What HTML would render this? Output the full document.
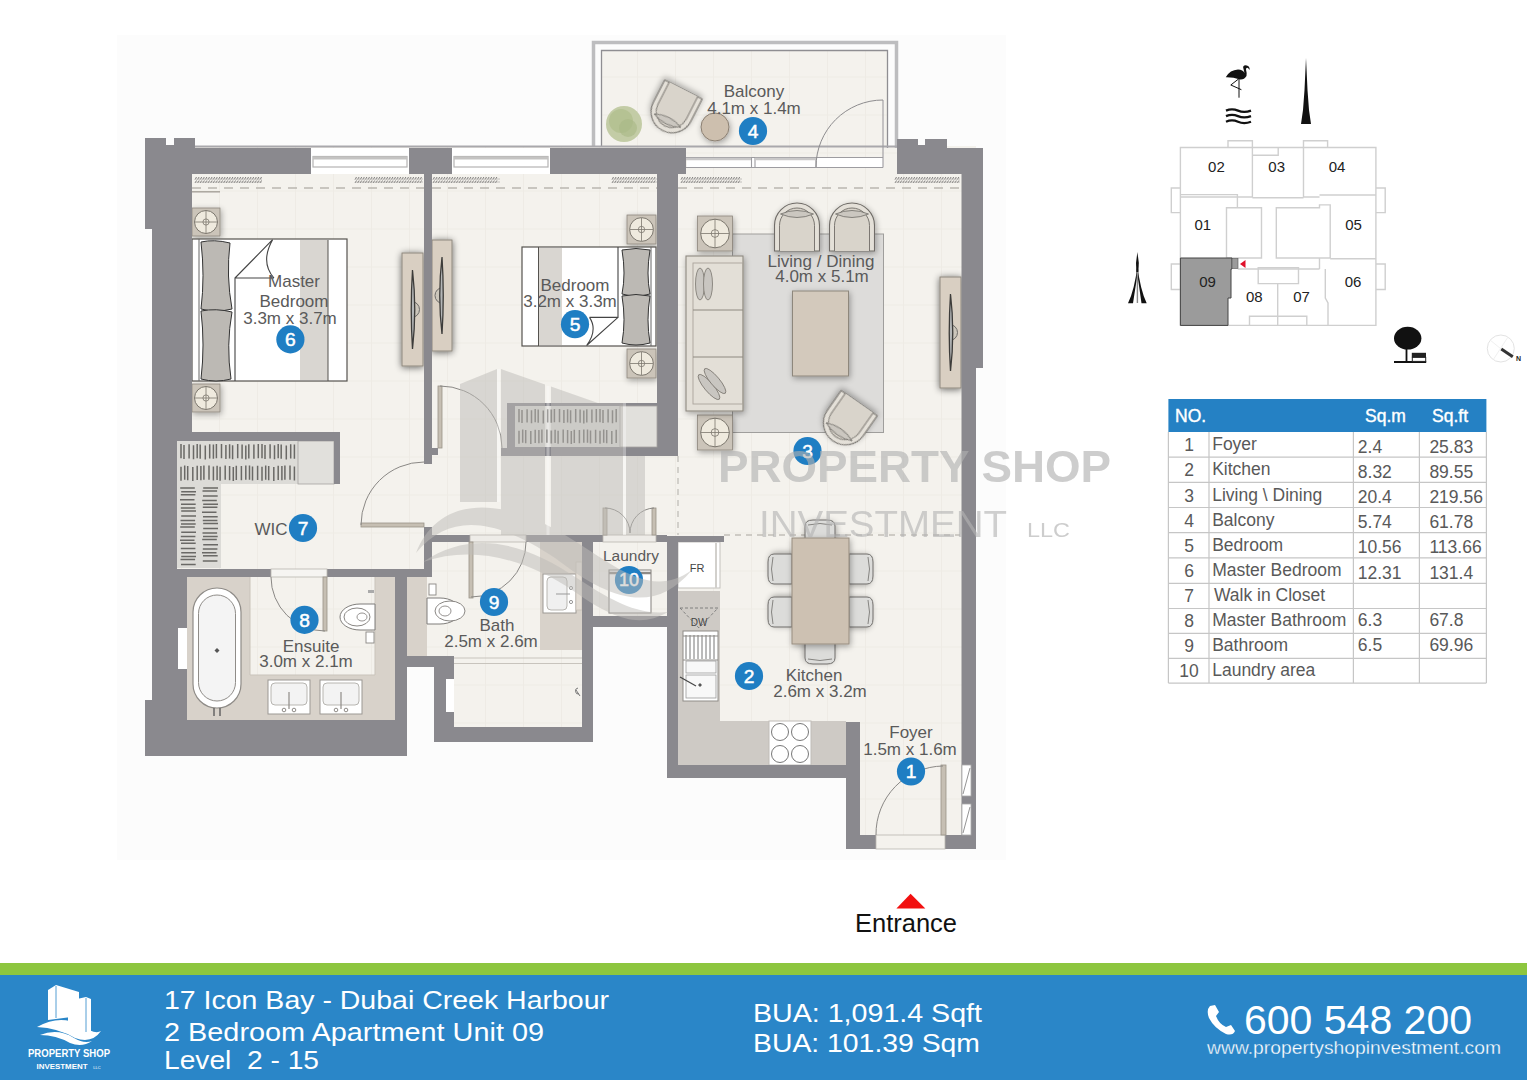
<!DOCTYPE html>
<html><head><meta charset="utf-8"><title>Floor plan</title>
<style>
html,body{margin:0;padding:0;background:#fff;width:1527px;height:1080px;overflow:hidden}
svg{display:block;position:absolute;left:0;top:0}
text{font-family:"Liberation Sans",sans-serif}
</style></head><body>
<svg width="1527" height="1080" viewBox="0 0 1527 1080">
<defs>
<pattern id="grid" x="29" y="0.5" width="38" height="38" patternUnits="userSpaceOnUse">
<rect width="38" height="38" fill="#f4f2ed"/>
<path d="M0.5 0V38M0 0.5H38" stroke="#eeebe5" stroke-width="1"/>
</pattern>
<filter id="sh2" x="-60%" y="-30%" width="220%" height="160%"><feGaussianBlur in="SourceAlpha" stdDeviation="3.5"/><feOffset dx="0" dy="1"/><feComponentTransfer><feFuncA type="linear" slope="0.6"/></feComponentTransfer><feMerge><feMergeNode/><feMergeNode in="SourceGraphic"/></feMerge></filter>
<filter id="sh" x="-30%" y="-30%" width="160%" height="160%"><feGaussianBlur in="SourceAlpha" stdDeviation="3"/><feOffset dx="1" dy="2"/><feComponentTransfer><feFuncA type="linear" slope="0.35"/></feComponentTransfer><feMerge><feMergeNode/><feMergeNode in="SourceGraphic"/></feMerge></filter>
</defs>

<rect x="117" y="35" width="889" height="825" fill="#fcfcfc"/>
<g fill="url(#grid)">
<rect x="601" y="50" width="287" height="96"/>
<rect x="152" y="146" width="824" height="389"/>
<rect x="152" y="535" width="441" height="207"/>
<rect x="593" y="535" width="74" height="92"/>
<rect x="667" y="535" width="309" height="243"/>
<rect x="846" y="778" width="130" height="71"/>
</g>
<rect x="407" y="667" width="27" height="100" fill="#fcfcfc"/>
<rect x="593" y="627" width="74" height="140" fill="#fcfcfc"/>
<path d="M593.5 146V42.5H896.5V150" fill="none" stroke="#bdbdbf" stroke-width="3.5"/>
<path d="M601.5 146V50.5H887.5V150H893" fill="none" stroke="#8f8e92" stroke-width="1.3"/>
<path d="M195 146.5H897" stroke="#a9a8ac" stroke-width="2"/>
<rect x="311" y="148" width="98" height="26" fill="#fff"/>
<rect x="313" y="156.5" width="94" height="10.5" fill="#fff" stroke="#b4b3b3" stroke-width="1.2"/>
<rect x="313" y="156.5" width="94" height="3" fill="#c4c3c2"/>
<rect x="452" y="148" width="98" height="26" fill="#fff"/>
<rect x="454" y="156.5" width="94" height="10.5" fill="#fff" stroke="#b4b3b3" stroke-width="1.2"/>
<rect x="454" y="156.5" width="94" height="3" fill="#c4c3c2"/>
<rect x="686" y="148" width="211" height="26" fill="url(#grid)"/>
<rect x="687" y="157.5" width="196" height="10" fill="#fff"/>
<path d="M686 157.5H883M686 167.5H883M751.5 157.5V167.5M755 157.5V167.5M816 157.5V167.5M883 100V167.5" stroke="#9d9ca0" stroke-width="1.1" fill="none"/>
<path d="M686 159H751M755 159H816" stroke="#c9c8c8" stroke-width="2.5"/>
<path d="M816 167 A67 67 0 0 1 883 100" fill="none" stroke="#8d8c8e" stroke-width="1"/>
<path d="M195.0 179.5L196.5 177M195.0 183L196.5 180.5M197.6 179.5L199.1 177M197.6 183L199.1 180.5M200.2 179.5L201.7 177M200.2 183L201.7 180.5M202.8 179.5L204.3 177M202.8 183L204.3 180.5M205.4 179.5L206.9 177M205.4 183L206.9 180.5M208.0 179.5L209.5 177M208.0 183L209.5 180.5M210.6 179.5L212.1 177M210.6 183L212.1 180.5M213.2 179.5L214.7 177M213.2 183L214.7 180.5M215.8 179.5L217.3 177M215.8 183L217.3 180.5M218.4 179.5L219.9 177M218.4 183L219.9 180.5M221.0 179.5L222.5 177M221.0 183L222.5 180.5M223.6 179.5L225.1 177M223.6 183L225.1 180.5M226.2 179.5L227.7 177M226.2 183L227.7 180.5M228.8 179.5L230.3 177M228.8 183L230.3 180.5M231.4 179.5L232.9 177M231.4 183L232.9 180.5M234.0 179.5L235.5 177M234.0 183L235.5 180.5M236.6 179.5L238.1 177M236.6 183L238.1 180.5M239.2 179.5L240.7 177M239.2 183L240.7 180.5M241.8 179.5L243.3 177M241.8 183L243.3 180.5M244.4 179.5L245.9 177M244.4 183L245.9 180.5M247.0 179.5L248.5 177M247.0 183L248.5 180.5M249.6 179.5L251.1 177M249.6 183L251.1 180.5M252.2 179.5L253.7 177M252.2 183L253.7 180.5M254.8 179.5L256.3 177M254.8 183L256.3 180.5M257.4 179.5L258.9 177M257.4 183L258.9 180.5M260.0 179.5L261.5 177M260.0 183L261.5 180.5" stroke="#7d7c7b" stroke-width="1"/>
<path d="M195 179H262M195 182H262" stroke="#b5b3b0" stroke-width="0.8"/>
<path d="M355.0 179.5L356.5 177M355.0 183L356.5 180.5M357.6 179.5L359.1 177M357.6 183L359.1 180.5M360.2 179.5L361.7 177M360.2 183L361.7 180.5M362.8 179.5L364.3 177M362.8 183L364.3 180.5M365.4 179.5L366.9 177M365.4 183L366.9 180.5M368.0 179.5L369.5 177M368.0 183L369.5 180.5M370.6 179.5L372.1 177M370.6 183L372.1 180.5M373.2 179.5L374.7 177M373.2 183L374.7 180.5M375.8 179.5L377.3 177M375.8 183L377.3 180.5M378.4 179.5L379.9 177M378.4 183L379.9 180.5M381.0 179.5L382.5 177M381.0 183L382.5 180.5M383.6 179.5L385.1 177M383.6 183L385.1 180.5M386.2 179.5L387.7 177M386.2 183L387.7 180.5M388.8 179.5L390.3 177M388.8 183L390.3 180.5M391.4 179.5L392.9 177M391.4 183L392.9 180.5M394.0 179.5L395.5 177M394.0 183L395.5 180.5M396.6 179.5L398.1 177M396.6 183L398.1 180.5M399.2 179.5L400.7 177M399.2 183L400.7 180.5M401.8 179.5L403.3 177M401.8 183L403.3 180.5M404.4 179.5L405.9 177M404.4 183L405.9 180.5M407.0 179.5L408.5 177M407.0 183L408.5 180.5M409.6 179.5L411.1 177M409.6 183L411.1 180.5M412.2 179.5L413.7 177M412.2 183L413.7 180.5M414.8 179.5L416.3 177M414.8 183L416.3 180.5M417.4 179.5L418.9 177M417.4 183L418.9 180.5M420.0 179.5L421.5 177M420.0 183L421.5 180.5" stroke="#7d7c7b" stroke-width="1"/>
<path d="M355 179H423M355 182H423" stroke="#b5b3b0" stroke-width="0.8"/>
<path d="M433.0 179.5L434.5 177M433.0 183L434.5 180.5M435.6 179.5L437.1 177M435.6 183L437.1 180.5M438.2 179.5L439.7 177M438.2 183L439.7 180.5M440.8 179.5L442.3 177M440.8 183L442.3 180.5M443.4 179.5L444.9 177M443.4 183L444.9 180.5M446.0 179.5L447.5 177M446.0 183L447.5 180.5M448.6 179.5L450.1 177M448.6 183L450.1 180.5M451.2 179.5L452.7 177M451.2 183L452.7 180.5M453.8 179.5L455.3 177M453.8 183L455.3 180.5M456.4 179.5L457.9 177M456.4 183L457.9 180.5M459.0 179.5L460.5 177M459.0 183L460.5 180.5M461.6 179.5L463.1 177M461.6 183L463.1 180.5M464.2 179.5L465.7 177M464.2 183L465.7 180.5M466.8 179.5L468.3 177M466.8 183L468.3 180.5M469.4 179.5L470.9 177M469.4 183L470.9 180.5M472.0 179.5L473.5 177M472.0 183L473.5 180.5M474.6 179.5L476.1 177M474.6 183L476.1 180.5M477.2 179.5L478.7 177M477.2 183L478.7 180.5M479.8 179.5L481.3 177M479.8 183L481.3 180.5M482.4 179.5L483.9 177M482.4 183L483.9 180.5M485.0 179.5L486.5 177M485.0 183L486.5 180.5M487.6 179.5L489.1 177M487.6 183L489.1 180.5M490.2 179.5L491.7 177M490.2 183L491.7 180.5M492.8 179.5L494.3 177M492.8 183L494.3 180.5M495.4 179.5L496.9 177M495.4 183L496.9 180.5" stroke="#7d7c7b" stroke-width="1"/>
<path d="M433 179H500M433 182H500" stroke="#b5b3b0" stroke-width="0.8"/>
<path d="M612.0 179.5L613.5 177M612.0 183L613.5 180.5M614.6 179.5L616.1 177M614.6 183L616.1 180.5M617.2 179.5L618.7 177M617.2 183L618.7 180.5M619.8 179.5L621.3 177M619.8 183L621.3 180.5M622.4 179.5L623.9 177M622.4 183L623.9 180.5M625.0 179.5L626.5 177M625.0 183L626.5 180.5M627.6 179.5L629.1 177M627.6 183L629.1 180.5M630.2 179.5L631.7 177M630.2 183L631.7 180.5M632.8 179.5L634.3 177M632.8 183L634.3 180.5M635.4 179.5L636.9 177M635.4 183L636.9 180.5M638.0 179.5L639.5 177M638.0 183L639.5 180.5M640.6 179.5L642.1 177M640.6 183L642.1 180.5M643.2 179.5L644.7 177M643.2 183L644.7 180.5M645.8 179.5L647.3 177M645.8 183L647.3 180.5M648.4 179.5L649.9 177M648.4 183L649.9 180.5M651.0 179.5L652.5 177M651.0 183L652.5 180.5M653.6 179.5L655.1 177M653.6 183L655.1 180.5" stroke="#7d7c7b" stroke-width="1"/>
<path d="M612 179H657M612 182H657" stroke="#b5b3b0" stroke-width="0.8"/>
<path d="M681.0 179.5L682.5 177M681.0 183L682.5 180.5M683.6 179.5L685.1 177M683.6 183L685.1 180.5M686.2 179.5L687.7 177M686.2 183L687.7 180.5M688.8 179.5L690.3 177M688.8 183L690.3 180.5M691.4 179.5L692.9 177M691.4 183L692.9 180.5M694.0 179.5L695.5 177M694.0 183L695.5 180.5M696.6 179.5L698.1 177M696.6 183L698.1 180.5M699.2 179.5L700.7 177M699.2 183L700.7 180.5M701.8 179.5L703.3 177M701.8 183L703.3 180.5M704.4 179.5L705.9 177M704.4 183L705.9 180.5M707.0 179.5L708.5 177M707.0 183L708.5 180.5M709.6 179.5L711.1 177M709.6 183L711.1 180.5M712.2 179.5L713.7 177M712.2 183L713.7 180.5M714.8 179.5L716.3 177M714.8 183L716.3 180.5M717.4 179.5L718.9 177M717.4 183L718.9 180.5M720.0 179.5L721.5 177M720.0 183L721.5 180.5M722.6 179.5L724.1 177M722.6 183L724.1 180.5M725.2 179.5L726.7 177M725.2 183L726.7 180.5M727.8 179.5L729.3 177M727.8 183L729.3 180.5M730.4 179.5L731.9 177M730.4 183L731.9 180.5M733.0 179.5L734.5 177M733.0 183L734.5 180.5M735.6 179.5L737.1 177M735.6 183L737.1 180.5M738.2 179.5L739.7 177M738.2 183L739.7 180.5" stroke="#7d7c7b" stroke-width="1"/>
<path d="M681 179H742M681 182H742" stroke="#b5b3b0" stroke-width="0.8"/>
<path d="M895.0 179.5L896.5 177M895.0 183L896.5 180.5M897.6 179.5L899.1 177M897.6 183L899.1 180.5M900.2 179.5L901.7 177M900.2 183L901.7 180.5M902.8 179.5L904.3 177M902.8 183L904.3 180.5M905.4 179.5L906.9 177M905.4 183L906.9 180.5M908.0 179.5L909.5 177M908.0 183L909.5 180.5M910.6 179.5L912.1 177M910.6 183L912.1 180.5M913.2 179.5L914.7 177M913.2 183L914.7 180.5M915.8 179.5L917.3 177M915.8 183L917.3 180.5M918.4 179.5L919.9 177M918.4 183L919.9 180.5M921.0 179.5L922.5 177M921.0 183L922.5 180.5M923.6 179.5L925.1 177M923.6 183L925.1 180.5M926.2 179.5L927.7 177M926.2 183L927.7 180.5M928.8 179.5L930.3 177M928.8 183L930.3 180.5M931.4 179.5L932.9 177M931.4 183L932.9 180.5M934.0 179.5L935.5 177M934.0 183L935.5 180.5M936.6 179.5L938.1 177M936.6 183L938.1 180.5M939.2 179.5L940.7 177M939.2 183L940.7 180.5M941.8 179.5L943.3 177M941.8 183L943.3 180.5M944.4 179.5L945.9 177M944.4 183L945.9 180.5M947.0 179.5L948.5 177M947.0 183L948.5 180.5M949.6 179.5L951.1 177M949.6 183L951.1 180.5M952.2 179.5L953.7 177M952.2 183L953.7 180.5M954.8 179.5L956.3 177M954.8 183L956.3 180.5M957.4 179.5L958.9 177M957.4 183L958.9 180.5" stroke="#7d7c7b" stroke-width="1"/>
<path d="M895 179H960M895 182H960" stroke="#b5b3b0" stroke-width="0.8"/>
<path d="M192 191.8H220" stroke="#a9a59e" stroke-width="1.5"/>
<path d="M192 188H424M432 188H657M678 188H961" stroke="#b9b6b0" stroke-width="1.4" stroke-dasharray="9 7"/>
<path d="M678 456V535" stroke="#c1beb8" stroke-width="1.3" stroke-dasharray="6 5"/>
<path d="M724 535H960" stroke="#c1beb8" stroke-width="1.3" stroke-dasharray="6 5"/>
<g fill="#d8d2ca">
<rect x="187" y="577" width="63" height="143"/><rect x="250" y="675" width="125" height="45"/><rect x="375" y="577" width="20" height="143"/>
<rect x="407" y="577" width="20" height="79"/><rect x="540" y="542" width="42" height="108"/>
</g>
<path d="M250 577V675H375V577" fill="none" stroke="#c9c3ba" stroke-width="1"/>
<rect x="193" y="588" width="48" height="120" rx="24" fill="#fff" stroke="#8f8c88" stroke-width="1.2"/>
<rect x="198.5" y="595" width="37" height="106" rx="18.5" fill="#f4f4f4" stroke="#8f8c88" stroke-width="1"/>
<path d="M217 648L219.5 650.5L217 653L214.5 650.5Z" fill="#555"/>
<path d="M214 708V716M220 708V716" stroke="#666" stroke-width="1.5"/>
<rect x="268" y="680" width="42" height="34" fill="#fff" stroke="#9b9893" stroke-width="1"/>
<rect x="271" y="683" width="36" height="22" rx="4" fill="#f3f3f3" stroke="#a7a49f" stroke-width="0.8"/>
<path d="M289 692V709" stroke="#8f8c88" stroke-width="1.2"/><circle cx="284" cy="710" r="1.8" fill="none" stroke="#8f8c88"/><circle cx="294" cy="710" r="1.8" fill="none" stroke="#8f8c88"/>
<rect x="320" y="680" width="42" height="34" fill="#fff" stroke="#9b9893" stroke-width="1"/>
<rect x="323" y="683" width="36" height="22" rx="4" fill="#f3f3f3" stroke="#a7a49f" stroke-width="0.8"/>
<path d="M341 692V709" stroke="#8f8c88" stroke-width="1.2"/><circle cx="336" cy="710" r="1.8" fill="none" stroke="#8f8c88"/><circle cx="346" cy="710" r="1.8" fill="none" stroke="#8f8c88"/>
<path d="M375 604H360A20 13 0 0 0 360 630H375Z" fill="#fff" stroke="#7f7d7a" stroke-width="1"/>
<ellipse cx="357" cy="617" rx="13" ry="9" fill="#fff" stroke="#8a8784" stroke-width="1"/><ellipse cx="362" cy="617" rx="5" ry="4" fill="none" stroke="#8a8784" stroke-width="0.9"/>
<rect x="366" y="632" width="8" height="11" fill="#fff" stroke="#8a8784" stroke-width="0.9"/>
<rect x="368" y="590" width="6" height="3" fill="#aaa"/>
<path d="M427 598H440A20 13 0 0 1 440 624H427Z" fill="#fff" stroke="#7f7d7a" stroke-width="1"/>
<ellipse cx="450" cy="611" rx="15" ry="10" fill="#fff" stroke="#8a8784" stroke-width="1"/><ellipse cx="445" cy="611" rx="6" ry="5" fill="none" stroke="#8a8784" stroke-width="0.9"/>
<rect x="429" y="584" width="7" height="11" fill="#fff" stroke="#8a8784" stroke-width="0.9"/>
<rect x="543" y="574" width="33" height="39" fill="#fff" stroke="#9b9893"/><rect x="547" y="577" width="20" height="33" rx="4" fill="#f0f0f0" stroke="#a7a49f" stroke-width="0.8"/>
<path d="M556 594H570" stroke="#999" stroke-width="1"/><circle cx="571" cy="588" r="1.6" fill="none" stroke="#999"/><circle cx="571" cy="602" r="1.6" fill="none" stroke="#999"/>
<rect x="576" y="562" width="6" height="48" fill="#e3ddd5" stroke="#c8c1b7" stroke-width="0.8"/>
<path d="M454 658H582M454 663.5H582" stroke="#c8c4bd" stroke-width="1.1"/>
<path d="M576 690l4 6M578 688a3 3 0 1 0 1 6" stroke="#777" stroke-width="1" fill="none"/>
<rect x="609" y="570" width="42" height="43" fill="#fff" stroke="#8e8b87" stroke-width="1.1"/>
<path d="M609 573H651" stroke="#8e8b87" stroke-width="2.5"/>
<rect x="678" y="542" width="42" height="46" fill="#fff" stroke="#c3c1bd" stroke-width="1"/>
<path d="M716 543V588" stroke="#d2d0cc" stroke-width="2"/>
<text x="697" y="572" font-size="11" fill="#444" text-anchor="middle" font-weight="normal">FR</text>
<path d="M678 591H720V721H846V765H678Z" fill="#cecac5"/>
<path d="M680 608L699 628L718 608M680 608H718" fill="none" stroke="#777" stroke-width="0.9" stroke-dasharray="3 2"/>
<text x="699" y="626" font-size="10" fill="#444" text-anchor="middle" font-weight="normal">DW</text>
<rect x="683" y="631" width="35" height="70" fill="#fff" stroke="#8f8c88" stroke-width="1"/>
<path d="M686 635V659M690 635V659M694 635V659M698 635V659M702 635V659M706 635V659M710 635V659M714 635V659" stroke="#666" stroke-width="0.9"/>
<path d="M683 636H718M683 660H718" stroke="#8f8c88" stroke-width="1"/>
<rect x="686" y="661" width="30" height="12" fill="#f8f8f8" stroke="#999" stroke-width="0.8"/><rect x="686" y="675" width="30" height="23" fill="#f8f8f8" stroke="#999" stroke-width="0.8"/>
<path d="M680 677L696 686" stroke="#444" stroke-width="1.2"/><path d="M700 683l2 2-2 2-2-2z" fill="#555"/>
<rect x="769" y="721" width="42" height="44" fill="#fff" stroke="#bfbcb8" stroke-width="1"/>
<circle cx="780" cy="732" r="8.5" fill="#fff" stroke="#777" stroke-width="1"/>
<circle cx="800" cy="732" r="8.5" fill="#fff" stroke="#777" stroke-width="1"/>
<circle cx="780" cy="754" r="8.5" fill="#fff" stroke="#777" stroke-width="1"/>
<circle cx="800" cy="754" r="8.5" fill="#fff" stroke="#777" stroke-width="1"/>
<g transform="translate(780,569) rotate(-90)" filter="url(#sh)"><path d="M-15.0 12.0V-6.0Q-15.0 -12.0 -7.0 -12.0H7.0Q15.0 -12.0 15.0 -6.0V12.0Z" fill="#dcdcda" stroke="#6f6d6a" stroke-width="1"/><path d="M-12.0 -7.0Q0 -10.0 12.0 -7.0" fill="none" stroke="#6f6d6a" stroke-width="0.8"/></g>
<g transform="translate(780,612) rotate(-90)" filter="url(#sh)"><path d="M-15.0 12.0V-6.0Q-15.0 -12.0 -7.0 -12.0H7.0Q15.0 -12.0 15.0 -6.0V12.0Z" fill="#dcdcda" stroke="#6f6d6a" stroke-width="1"/><path d="M-12.0 -7.0Q0 -10.0 12.0 -7.0" fill="none" stroke="#6f6d6a" stroke-width="0.8"/></g>
<g transform="translate(861,569) rotate(90)" filter="url(#sh)"><path d="M-15.0 12.0V-6.0Q-15.0 -12.0 -7.0 -12.0H7.0Q15.0 -12.0 15.0 -6.0V12.0Z" fill="#dcdcda" stroke="#6f6d6a" stroke-width="1"/><path d="M-12.0 -7.0Q0 -10.0 12.0 -7.0" fill="none" stroke="#6f6d6a" stroke-width="0.8"/></g>
<g transform="translate(861,612) rotate(90)" filter="url(#sh)"><path d="M-15.0 12.0V-6.0Q-15.0 -12.0 -7.0 -12.0H7.0Q15.0 -12.0 15.0 -6.0V12.0Z" fill="#dcdcda" stroke="#6f6d6a" stroke-width="1"/><path d="M-12.0 -7.0Q0 -10.0 12.0 -7.0" fill="none" stroke="#6f6d6a" stroke-width="0.8"/></g>
<g transform="translate(820,531) rotate(0)" filter="url(#sh)"><path d="M-15.0 11.0V-5.0Q-15.0 -11.0 -7.0 -11.0H7.0Q15.0 -11.0 15.0 -5.0V11.0Z" fill="#dcdcda" stroke="#6f6d6a" stroke-width="1"/><path d="M-12.0 -6.0Q0 -9.0 12.0 -6.0" fill="none" stroke="#6f6d6a" stroke-width="0.8"/></g>
<g transform="translate(820,653) rotate(180)" filter="url(#sh)"><path d="M-15.0 11.0V-5.0Q-15.0 -11.0 -7.0 -11.0H7.0Q15.0 -11.0 15.0 -5.0V11.0Z" fill="#dcdcda" stroke="#6f6d6a" stroke-width="1"/><path d="M-12.0 -6.0Q0 -9.0 12.0 -6.0" fill="none" stroke="#6f6d6a" stroke-width="0.8"/></g>
<rect x="792" y="538" width="57" height="106" fill="#cdc1b2" stroke="#978d80" stroke-width="1" filter="url(#sh)"/>
<rect x="732.5" y="234" width="151" height="198.5" fill="#dddcda" stroke="#9f9e9c" stroke-width="1"/>
<rect x="697.5" y="216" width="35" height="35" fill="#cbc4b9" stroke="#8d877d" stroke-width="0.8" filter="url(#sh)"/>
<circle cx="715.0" cy="233.5" r="14.35" fill="#efeade" stroke="#7b766d" stroke-width="1"/><circle cx="715.0" cy="233.5" r="3.85" fill="none" stroke="#7b766d" stroke-width="0.8"/><path d="M715.0 219V248M700.5 233.5H729.5" stroke="#7b766d" stroke-width="0.8"/>
<rect x="697.5" y="415" width="35" height="35" fill="#cbc4b9" stroke="#8d877d" stroke-width="0.8" filter="url(#sh)"/>
<circle cx="715.0" cy="432.5" r="14.35" fill="#efeade" stroke="#7b766d" stroke-width="1"/><circle cx="715.0" cy="432.5" r="3.85" fill="none" stroke="#7b766d" stroke-width="0.8"/><path d="M715.0 418V447M700.5 432.5H729.5" stroke="#7b766d" stroke-width="0.8"/>
<rect x="686" y="256" width="57" height="155" fill="#e3dfd7" stroke="#8e8980" stroke-width="1.1" filter="url(#sh)"/>
<rect x="693" y="263" width="50" height="141" fill="none" stroke="#a9a49b" stroke-width="0.9"/>
<path d="M693 310H743M693 357H743" stroke="#8e8980" stroke-width="1"/>
<ellipse cx="700" cy="284" rx="4.5" ry="16" fill="#c9c6c1" stroke="#7a766f" stroke-width="0.8"/><ellipse cx="708" cy="284" rx="4.5" ry="16" fill="#c9c6c1" stroke="#7a766f" stroke-width="0.8"/>
<ellipse cx="709" cy="387" rx="4.5" ry="16" fill="#c9c6c1" stroke="#7a766f" stroke-width="0.8" transform="rotate(-40 709 387)"/><ellipse cx="715" cy="381" rx="4.5" ry="16" fill="#c9c6c1" stroke="#7a766f" stroke-width="0.8" transform="rotate(-40 715 381)"/>
<rect x="792.5" y="291" width="56" height="85" fill="#d3c9bc" stroke="#8e877c" stroke-width="1" filter="url(#sh)"/>
<g transform="translate(797,227) rotate(0)" filter="url(#sh)"><path d="M-22.5 24.0V-1.5A22.5 22.5 0 0 1 22.5 -1.5V24.0Z" fill="#e4e0d8" stroke="#6f6c67" stroke-width="1.1"/><path d="M-17.5 24.0V-1.5A17.5 17.5 0 0 1 17.5 -1.5V24.0" fill="#d9d4cb" stroke="#6f6c67" stroke-width="0.9"/><path d="M-16.5 -13.0Q0 -20.0 16.5 -13.0Q0 -6.0 -16.5 -13.0Z" fill="#cbc7c0" stroke="#6f6c67" stroke-width="0.8"/></g>
<g transform="translate(852,227) rotate(0)" filter="url(#sh)"><path d="M-22.5 24.0V-1.5A22.5 22.5 0 0 1 22.5 -1.5V24.0Z" fill="#e4e0d8" stroke="#6f6c67" stroke-width="1.1"/><path d="M-17.5 24.0V-1.5A17.5 17.5 0 0 1 17.5 -1.5V24.0" fill="#d9d4cb" stroke="#6f6c67" stroke-width="0.9"/><path d="M-16.5 -13.0Q0 -20.0 16.5 -13.0Q0 -6.0 -16.5 -13.0Z" fill="#cbc7c0" stroke="#6f6c67" stroke-width="0.8"/></g>
<g transform="translate(846,422) rotate(-145)" filter="url(#sh)"><path d="M-22.0 23.0V-1.0A22.0 22.0 0 0 1 22.0 -1.0V23.0Z" fill="#e4e0d8" stroke="#6f6c67" stroke-width="1.1"/><path d="M-17.0 23.0V-1.0A17.0 17.0 0 0 1 17.0 -1.0V23.0" fill="#d9d4cb" stroke="#6f6c67" stroke-width="0.9"/><path d="M-16.0 -12.0Q0 -19.0 16.0 -12.0Q0 -5.0 -16.0 -12.0Z" fill="#cbc7c0" stroke="#6f6c67" stroke-width="0.8"/></g>
<rect x="402" y="253" width="21" height="113" fill="#d9cfc2" stroke="#8e887e" stroke-width="1" filter="url(#sh2)"/>
<path d="M411.5 309.5m0 -8a8 8 0 0 1 0 16" fill="#ccc6bb" stroke="#6d6b68" stroke-width="1"/>
<path d="M412.5 270Q417.0 309.5 412.5 349Q410.0 309.5 412.5 270Z" fill="#b4b6b7" stroke="#3d3c3a" stroke-width="1.3"/>
<rect x="432" y="240" width="20" height="111" fill="#d9cfc2" stroke="#8e887e" stroke-width="1" filter="url(#sh2)"/>
<path d="M443.0 295.5m0 -8a8 8 0 0 0 0 16" fill="#ccc6bb" stroke="#6d6b68" stroke-width="1"/>
<path d="M442.0 257Q437.5 295.5 442.0 334Q444.5 295.5 442.0 257Z" fill="#b4b6b7" stroke="#3d3c3a" stroke-width="1.3"/>
<rect x="940" y="277" width="21" height="111" fill="#d9cfc2" stroke="#8e887e" stroke-width="1" filter="url(#sh2)"/>
<path d="M949.5 332.5m0 -8a8 8 0 0 1 0 16" fill="#ccc6bb" stroke="#6d6b68" stroke-width="1"/>
<path d="M950.5 294Q955.0 332.5 950.5 371Q948.0 332.5 950.5 294Z" fill="#b4b6b7" stroke="#3d3c3a" stroke-width="1.3"/>
<rect x="192" y="208" width="28" height="28" fill="#cbc4b9" stroke="#8d877d" stroke-width="0.8" filter="url(#sh)"/>
<circle cx="206.0" cy="222.0" r="11.479999999999999" fill="#efeade" stroke="#7b766d" stroke-width="1"/><circle cx="206.0" cy="222.0" r="3.08" fill="none" stroke="#7b766d" stroke-width="0.8"/><path d="M206.0 211V233M195 222.0H217" stroke="#7b766d" stroke-width="0.8"/>
<rect x="192" y="384" width="28" height="28" fill="#cbc4b9" stroke="#8d877d" stroke-width="0.8" filter="url(#sh)"/>
<circle cx="206.0" cy="398.0" r="11.479999999999999" fill="#efeade" stroke="#7b766d" stroke-width="1"/><circle cx="206.0" cy="398.0" r="3.08" fill="none" stroke="#7b766d" stroke-width="0.8"/><path d="M206.0 387V409M195 398.0H217" stroke="#7b766d" stroke-width="0.8"/>
<rect x="192" y="239" width="155" height="142" fill="#fff" stroke="#55534f" stroke-width="1.2"/>
<path d="M199 239V381" stroke="#666" stroke-width="1"/>
<rect x="300" y="240" width="28" height="140" fill="#d9d6d1"/><path d="M328 240V381" stroke="#55534f" stroke-width="1"/>
<path d="M201 242Q214 239 230 243Q226 276 232 309Q216 313 201 309Q205 276 201 242Z" fill="#bcb9b4" stroke="#333" stroke-width="1"/>
<path d="M201 311Q216 308 232 312Q226 345 231 379Q216 383 201 379Q205 345 201 311Z" fill="#bcb9b4" stroke="#333" stroke-width="1"/>
<path d="M235 381V278H274M235 278L272.6 239.7Q260 262 274 278" fill="none" stroke="#444" stroke-width="1.1"/>
<rect x="627" y="215" width="29" height="29" fill="#cbc4b9" stroke="#8d877d" stroke-width="0.8" filter="url(#sh)"/>
<circle cx="641.5" cy="229.5" r="11.889999999999999" fill="#efeade" stroke="#7b766d" stroke-width="1"/><circle cx="641.5" cy="229.5" r="3.19" fill="none" stroke="#7b766d" stroke-width="0.8"/><path d="M641.5 218V241M630 229.5H653" stroke="#7b766d" stroke-width="0.8"/>
<rect x="627" y="349" width="29" height="29" fill="#cbc4b9" stroke="#8d877d" stroke-width="0.8" filter="url(#sh)"/>
<circle cx="641.5" cy="363.5" r="11.889999999999999" fill="#efeade" stroke="#7b766d" stroke-width="1"/><circle cx="641.5" cy="363.5" r="3.19" fill="none" stroke="#7b766d" stroke-width="0.8"/><path d="M641.5 352V375M630 363.5H653" stroke="#7b766d" stroke-width="0.8"/>
<rect x="522" y="247" width="134" height="99" fill="#fff" stroke="#55534f" stroke-width="1.2"/>
<rect x="538.5" y="248" width="23.5" height="97" fill="#d9d6d1"/><path d="M538.5 247V346" stroke="#55534f" stroke-width="1"/>
<path d="M651 247V346" stroke="#666" stroke-width="1"/>
<path d="M622 250Q636 247 650 250Q646 274 650 294Q636 298 622 294Q626 274 622 250Z" fill="#bcb9b4" stroke="#333" stroke-width="1"/>
<path d="M622 296Q636 293 650 296Q646 320 650 343Q636 347 622 343Q626 320 622 296Z" fill="#bcb9b4" stroke="#333" stroke-width="1"/>
<path d="M618 247V317.4H589.5M618 317.4L586.6 345.5Q598 330 589.5 317.4" fill="none" stroke="#444" stroke-width="1.1"/>
<rect x="177" y="441" width="121" height="43" fill="#dcdbd7"/>
<path d="M181.0 444.0V458.2M184.0 444.9V459.0M189.1 444.3V458.5M193.5 445.2V459.2M197.2 444.0V458.2M200.2 444.6V458.8M205.3 445.5V459.5M209.7 444.3V458.5M213.4 444.6V458.8M216.4 444.0V458.2M221.5 444.0V458.2M225.9 444.9V459.0M229.6 444.3V458.5M232.6 445.2V459.2M237.7 444.0V458.2M242.1 444.6V458.8M245.8 445.5V459.5M248.8 444.3V458.5M253.9 444.6V458.8M258.3 444.0V458.2M262.0 444.0V458.2M265.0 444.9V459.0M270.1 444.3V458.5M274.5 445.2V459.2M278.2 444.0V458.2M281.2 444.6V458.8M286.3 445.5V459.5M290.7 444.3V458.5M294.4 444.6V458.8M181.0 466.7V480.8M184.7 465.5V479.8M187.7 466.1V480.2M192.8 467.0V481.0M197.2 465.8V480.0M200.9 466.1V480.2M203.9 465.5V479.8M209.0 465.5V479.8M213.4 466.4V480.5M217.1 465.8V480.0M220.1 466.7V480.8M225.2 465.5V479.8M229.6 466.1V480.2M233.3 467.0V481.0M236.3 465.8V480.0M241.4 466.1V480.2M245.8 465.5V479.8M249.5 465.5V479.8M252.5 466.4V480.5M257.6 465.8V480.0M262.0 466.7V480.8M265.7 465.5V479.8M268.7 466.1V480.2M273.8 467.0V481.0M278.2 465.8V480.0M281.9 466.1V480.2M284.9 465.5V479.8M290.0 465.5V479.8M294.4 466.4V480.5" stroke="#6a6966" stroke-width="1.5"/>
<rect x="298" y="441" width="36" height="43" fill="#e1e0dc" stroke="#a5a4a0" stroke-width="0.8"/>
<g transform="rotate(90 199 526)">
<rect x="157" y="504" width="84" height="44" fill="#dcdbd7"/>
<path d="M161.0 507.0V521.8M164.0 507.9V522.5M169.1 507.3V522.0M173.5 508.2V522.8M177.2 507.0V521.8M180.2 507.6V522.2M185.3 508.5V523.0M189.7 507.3V522.0M193.4 507.6V522.2M196.4 507.0V521.8M201.5 507.0V521.8M205.9 507.9V522.5M209.6 507.3V522.0M212.6 508.2V522.8M217.7 507.0V521.8M222.1 507.6V522.2M225.8 508.5V523.0M228.8 507.3V522.0M233.9 507.6V522.2M161.0 530.2V544.8M164.7 529.0V543.8M167.7 529.6V544.2M172.8 530.5V545.0M177.2 529.3V544.0M180.9 529.6V544.2M183.9 529.0V543.8M189.0 529.0V543.8M193.4 529.9V544.5M197.1 529.3V544.0M200.1 530.2V544.8M205.2 529.0V543.8M209.6 529.6V544.2M213.3 530.5V545.0M216.3 529.3V544.0M221.4 529.6V544.2M225.8 529.0V543.8M229.5 529.0V543.8M232.5 529.9V544.5M237.6 529.3V544.0" stroke="#6a6966" stroke-width="1.5"/>
</g>
<rect x="515" y="405" width="105" height="42" fill="#dcdbd7"/>
<path d="M519.0 408.0V421.8M522.0 408.9V422.5M527.1 408.3V422.0M531.5 409.2V422.8M535.2 408.0V421.8M538.2 408.6V422.2M543.3 409.5V423.0M547.7 408.3V422.0M551.4 408.6V422.2M554.4 408.0V421.8M559.5 408.0V421.8M563.9 408.9V422.5M567.6 408.3V422.0M570.6 409.2V422.8M575.7 408.0V421.8M580.1 408.6V422.2M583.8 409.5V423.0M586.8 408.3V422.0M591.9 408.6V422.2M596.3 408.0V421.8M600.0 408.0V421.8M603.0 408.9V422.5M608.1 408.3V422.0M612.5 409.2V422.8M616.2 408.0V421.8M519.0 430.2V443.8M522.7 429.0V442.8M525.7 429.6V443.2M530.8 430.5V444.0M535.2 429.3V443.0M538.9 429.6V443.2M541.9 429.0V442.8M547.0 429.0V442.8M551.4 429.9V443.5M555.1 429.3V443.0M558.1 430.2V443.8M563.2 429.0V442.8M567.6 429.6V443.2M571.3 430.5V444.0M574.3 429.3V443.0M579.4 429.6V443.2M583.8 429.0V442.8M587.5 429.0V442.8M590.5 429.9V443.5M595.6 429.3V443.0M600.0 430.2V443.8M603.7 429.0V442.8M606.7 429.6V443.2M611.8 430.5V444.0M616.2 429.3V443.0" stroke="#6a6966" stroke-width="1.5"/>
<rect x="620" y="405" width="37" height="42" fill="#e1e0dc" stroke="#a5a4a0" stroke-width="0.8"/>
<circle cx="624" cy="124" r="18" fill="#c3cca6"/><circle cx="621" cy="121" r="12" fill="#b2bf8e" opacity="0.8"/><circle cx="628" cy="128" r="9" fill="#a9b785" opacity="0.6"/>
<circle cx="715" cy="127" r="14" fill="#cdbfae" stroke="#8a7f72" stroke-width="1" filter="url(#sh)"/>
<g transform="translate(673,110) rotate(-153)" filter="url(#sh)"><path d="M-21.0 23.0V-2.0A21.0 21.0 0 0 1 21.0 -2.0V23.0Z" fill="#e4e0d8" stroke="#6f6c67" stroke-width="1.1"/><path d="M-16.0 23.0V-2.0A16.0 16.0 0 0 1 16.0 -2.0V23.0" fill="#d9d4cb" stroke="#6f6c67" stroke-width="0.9"/><path d="M-15.0 -12.0Q0 -19.0 15.0 -12.0Q0 -5.0 -15.0 -12.0Z" fill="#cbc7c0" stroke="#6f6c67" stroke-width="0.8"/></g>
<g fill="#8a898e">
<rect x="145" y="138" width="50" height="36"/>
<rect x="145" y="174" width="47" height="55"/>
<rect x="152" y="174" width="40" height="258"/>
<rect x="152" y="432" width="25" height="9"/>
<rect x="152" y="441" width="25" height="128"/>
<rect x="152" y="569" width="35" height="151"/>
<rect x="145" y="700" width="7" height="56"/>
<rect x="145" y="720" width="262" height="36"/>
<rect x="395" y="569" width="12" height="187"/>
<rect x="195" y="148" width="116" height="26"/>
<rect x="409" y="148" width="43" height="26"/>
<rect x="550" y="148" width="136" height="26"/>
<rect x="846" y="722" width="14" height="127"/>
<rect x="846" y="835" width="30" height="14"/>
<rect x="424" y="174" width="8" height="290"/>
<rect x="432" y="448" width="6" height="7"/>
<rect x="424" y="527" width="8" height="50"/>
<rect x="177" y="432" width="163" height="9"/>
<rect x="334" y="432" width="6" height="52"/>
<rect x="187" y="569" width="84" height="8"/>
<rect x="327" y="569" width="104" height="8"/>
<rect x="657" y="174" width="21" height="282"/>
<rect x="501" y="448" width="177" height="8"/>
<rect x="507" y="403" width="150" height="45"/>
<rect x="431" y="535" width="39" height="7"/>
<rect x="526" y="535" width="77" height="7"/>
<rect x="656" y="535" width="11" height="7"/>
<rect x="667" y="536" width="57" height="6"/>
<rect x="667" y="536" width="11" height="242"/>
<rect x="667" y="765" width="193" height="13"/>
<rect x="593" y="616" width="84" height="11"/>
<rect x="582" y="535" width="11" height="207"/>
<rect x="434" y="727" width="159" height="15"/>
<rect x="434" y="657" width="20" height="85"/>
<rect x="407" y="656" width="47" height="11"/>
<path d="M897 139H918V145H925V139H947V148H983V368H976V849H945V835H961.5V174H897Z"/>
</g>
<rect x="166" y="138" width="8" height="7" fill="#fcfcfc"/><rect x="918" y="139" width="7" height="6" fill="#fcfcfc"/>
<rect x="515" y="406" width="105" height="41" fill="#dcdbd7"/>
<path d="M519.0 409.0V422.2M522.0 409.9V423.0M527.1 409.3V422.5M531.5 410.2V423.2M535.2 409.0V422.2M538.2 409.6V422.8M543.3 410.5V423.5M547.7 409.3V422.5M551.4 409.6V422.8M554.4 409.0V422.2M559.5 409.0V422.2M563.9 409.9V423.0M567.6 409.3V422.5M570.6 410.2V423.2M575.7 409.0V422.2M580.1 409.6V422.8M583.8 410.5V423.5M586.8 409.3V422.5M591.9 409.6V422.8M596.3 409.0V422.2M600.0 409.0V422.2M603.0 409.9V423.0M608.1 409.3V422.5M612.5 410.2V423.2M616.2 409.0V422.2M519.0 430.7V443.8M522.7 429.5V442.8M525.7 430.1V443.2M530.8 431.0V444.0M535.2 429.8V443.0M538.9 430.1V443.2M541.9 429.5V442.8M547.0 429.5V442.8M551.4 430.4V443.5M555.1 429.8V443.0M558.1 430.7V443.8M563.2 429.5V442.8M567.6 430.1V443.2M571.3 431.0V444.0M574.3 429.8V443.0M579.4 430.1V443.2M583.8 429.5V442.8M587.5 429.5V442.8M590.5 430.4V443.5M595.6 429.8V443.0M600.0 430.7V443.8M603.7 429.5V442.8M606.7 430.1V443.2M611.8 431.0V444.0M616.2 429.8V443.0" stroke="#6a6966" stroke-width="1.5"/>
<rect x="620" y="406" width="37" height="41" fill="#e1e0dc" stroke="#a5a4a0" stroke-width="0.8"/>
<rect x="178" y="628" width="9" height="41" fill="#fff"/>
<rect x="446" y="679" width="8" height="33" fill="#fff"/>
<rect x="962" y="765" width="9" height="31" fill="#fff" stroke="#aaa" stroke-width="0.8"/><rect x="962" y="804" width="9" height="31" fill="#fff" stroke="#aaa" stroke-width="0.8"/>
<path d="M963 794L970 768M963 833L970 807" stroke="#888" stroke-width="0.9"/>
<rect x="438" y="386" width="4" height="62" fill="#c6bfb3" stroke="#9a9388" stroke-width="0.8"/>
<path d="M440 386A62 62 0 0 1 502 448" fill="none" stroke="#8a8885" stroke-width="1"/>
<rect x="361" y="523" width="63" height="4" fill="#c6bfb3" stroke="#9a9388" stroke-width="0.8"/>
<path d="M361 525A63 63 0 0 1 424 462" fill="none" stroke="#8a8885" stroke-width="1"/>
<rect x="271" y="569" width="56" height="8" fill="#f6f5f2" stroke="#b9b6b0" stroke-width="0.8"/>
<rect x="323" y="577" width="4" height="54" fill="#c6bfb3" stroke="#9a9388" stroke-width="0.8"/>
<path d="M271 577A54 54 0 0 0 325 631" fill="none" stroke="#8a8885" stroke-width="1"/>
<rect x="470" y="535" width="56" height="7" fill="#eeece8" stroke="#b9b6b0" stroke-width="0.8"/>
<rect x="469" y="542" width="4" height="56" fill="#c6bfb3" stroke="#9a9388" stroke-width="0.8"/>
<path d="M526 542A55 55 0 0 1 471 597" fill="none" stroke="#8a8885" stroke-width="1"/>
<rect x="603" y="535" width="53" height="7" fill="#eeece8" stroke="#b9b6b0" stroke-width="0.8"/>
<rect x="603" y="508" width="4" height="27" fill="#c6bfb3" stroke="#9a9388" stroke-width="0.8"/>
<rect x="652" y="508" width="4" height="27" fill="#c6bfb3" stroke="#9a9388" stroke-width="0.8"/>
<path d="M605 508A25 25 0 0 1 630 533" fill="none" stroke="#8a8885" stroke-width="1"/>
<path d="M654 508A25 25 0 0 0 630 533" fill="none" stroke="#8a8885" stroke-width="1"/>
<rect x="876" y="835" width="69" height="14" fill="#f4f2ed" stroke="#b9b6b0" stroke-width="0.8"/>
<rect x="941" y="765" width="5" height="70" fill="#c6bfb3" stroke="#9a9388" stroke-width="0.8"/>
<path d="M876 835A68 68 0 0 1 943 766" fill="none" stroke="#8a8885" stroke-width="1"/>
<text x="294" y="286.7" font-size="17" fill="#5a5a5a" text-anchor="middle" font-weight="normal">Master</text>
<text x="294" y="307.1" font-size="17" fill="#5a5a5a" text-anchor="middle" font-weight="normal">Bedroom</text>
<text x="290" y="323.8" font-size="17" fill="#5a5a5a" text-anchor="middle" font-weight="normal">3.3m x 3.7m</text>
<circle cx="290.4" cy="339.4" r="14.1" fill="#1f7ec3" opacity="1"/>
<text x="290.4" y="346.31199999999995" font-size="19.2" fill="#fff" stroke="#fff" stroke-width="0.5" text-anchor="middle">6</text>
<text x="575" y="290.8" font-size="17" fill="#5a5a5a" text-anchor="middle" font-weight="normal">Bedroom</text>
<text x="570" y="306.5" font-size="17" fill="#5a5a5a" text-anchor="middle" font-weight="normal">3.2m x 3.3m</text>
<circle cx="575" cy="324.2" r="14.1" fill="#1f7ec3" opacity="1"/>
<text x="575" y="331.11199999999997" font-size="19.2" fill="#fff" stroke="#fff" stroke-width="0.5" text-anchor="middle">5</text>
<text x="754" y="96.8" font-size="17" fill="#5a5a5a" text-anchor="middle" font-weight="normal">Balcony</text>
<text x="754" y="113.8" font-size="17" fill="#5a5a5a" text-anchor="middle" font-weight="normal">4.1m x 1.4m</text>
<circle cx="753" cy="131" r="14.1" fill="#1f7ec3" opacity="1"/>
<text x="753" y="137.912" font-size="19.2" fill="#fff" stroke="#fff" stroke-width="0.5" text-anchor="middle">4</text>
<text x="821" y="266.8" font-size="17" fill="#5a5a5a" text-anchor="middle" font-weight="normal">Living / Dining</text>
<text x="822" y="281.8" font-size="17" fill="#5a5a5a" text-anchor="middle" font-weight="normal">4.0m x 5.1m</text>
<circle cx="807.5" cy="451" r="14.1" fill="#1f7ec3" opacity="1"/>
<text x="807.5" y="457.912" font-size="19.2" fill="#fff" stroke="#fff" stroke-width="0.5" text-anchor="middle">3</text>
<text x="271" y="534.8" font-size="17" fill="#5a5a5a" text-anchor="middle" font-weight="normal">WIC</text>
<circle cx="303" cy="528" r="14.1" fill="#1f7ec3" opacity="1"/>
<text x="303" y="534.912" font-size="19.2" fill="#fff" stroke="#fff" stroke-width="0.5" text-anchor="middle">7</text>
<circle cx="304.5" cy="619.9" r="14.1" fill="#1f7ec3" opacity="1"/>
<text x="304.5" y="626.812" font-size="19.2" fill="#fff" stroke="#fff" stroke-width="0.5" text-anchor="middle">8</text>
<text x="311" y="651.8" font-size="17" fill="#5a5a5a" text-anchor="middle" font-weight="normal">Ensuite</text>
<text x="306" y="666.8" font-size="17" fill="#5a5a5a" text-anchor="middle" font-weight="normal">3.0m x 2.1m</text>
<circle cx="494" cy="602" r="14.1" fill="#1f7ec3" opacity="1"/>
<text x="494" y="608.912" font-size="19.2" fill="#fff" stroke="#fff" stroke-width="0.5" text-anchor="middle">9</text>
<text x="497" y="630.8" font-size="17" fill="#5a5a5a" text-anchor="middle" font-weight="normal">Bath</text>
<text x="491" y="646.8" font-size="17" fill="#5a5a5a" text-anchor="middle" font-weight="normal">2.5m x 2.6m</text>
<text x="631" y="561" font-size="15.5" fill="#5a5a5a" text-anchor="middle" font-weight="normal">Laundry</text>
<circle cx="629" cy="580" r="14.1" fill="#1f7ec3" opacity="1"/>
<text x="629" y="586.48" font-size="18" fill="#fff" stroke="#fff" stroke-width="0.5" text-anchor="middle">10</text>
<text x="814" y="680.8" font-size="17" fill="#5a5a5a" text-anchor="middle" font-weight="normal">Kitchen</text>
<text x="820" y="696.8" font-size="17" fill="#5a5a5a" text-anchor="middle" font-weight="normal">2.6m x 3.2m</text>
<circle cx="749" cy="676" r="14.1" fill="#1f7ec3" opacity="1"/>
<text x="749" y="682.912" font-size="19.2" fill="#fff" stroke="#fff" stroke-width="0.5" text-anchor="middle">2</text>
<text x="911" y="737.8" font-size="17" fill="#5a5a5a" text-anchor="middle" font-weight="normal">Foyer</text>
<text x="910" y="754.8" font-size="17" fill="#5a5a5a" text-anchor="middle" font-weight="normal">1.5m x 1.6m</text>
<circle cx="911" cy="771.5" r="14.1" fill="#1f7ec3" opacity="1"/>
<text x="911" y="778.412" font-size="19.2" fill="#fff" stroke="#fff" stroke-width="0.5" text-anchor="middle">1</text>
<g fill="#bebcb8" opacity="0.5">
<path d="M460 384L497 369V502L460 502Z"/>
<path d="M501 369L545 384.4V535H501Z"/>
<path d="M551 386.5L598 403H623V535H551Z"/>
<path d="M626 456H645V535H626Z"/>
<path d="M416 553C435 503 490 490 565 535C615 565 650 600 692 570C655 614 612 602 555 558C495 518 450 512 416 553Z"/>
<path d="M423 562C470 530 522 540 580 580C615 603 640 615 668 612C640 628 615 620 575 592C522 556 470 546 423 562Z"/>
</g>
<path d="M498.5 369V502M548 386V535M624.5 403V535" stroke="#fff" stroke-width="3" opacity="0.35"/>
<text x="718" y="481.5" font-size="45" fill="#b0b0b0" text-anchor="start" font-weight="bold" textLength="393" lengthAdjust="spacingAndGlyphs" opacity="0.62">PROPERTY SHOP</text>
<text x="759" y="536.5" font-size="36" fill="#b4b4b4" text-anchor="start" font-weight="normal" textLength="248" lengthAdjust="spacingAndGlyphs" opacity="0.62">INVESTMENT</text>
<text x="1027" y="536.5" font-size="21" fill="#b8b8b8" text-anchor="start" font-weight="normal" textLength="43" lengthAdjust="spacingAndGlyphs" opacity="0.7">LLC</text>
<g fill="none" stroke="#cfcfcf" stroke-width="1.4">
<path d="M1228 147.5V140.7H1252.4V147.5M1303.5 147.5V140.7H1327.6V147.5"/>
<path d="M1180.4 147.5H1375.9V325.4H1180.4Z"/>
<path d="M1252.4 147.5V197.7M1303.5 147.5V197.7M1180.4 197H1252.4M1252.4 197.7H1303.5M1303.5 197H1319.5"/>
<path d="M1252.4 155.3H1278.2V147.5"/>
<path d="M1180.4 194.6H1237.4V207.8"/>
<path d="M1226.5 207.8H1261.5V258H1226.5Z"/>
<path d="M1276.3 207.8H1319.5V204.9H1330.2V258H1276.3Z"/>
<path d="M1319.5 195H1375.9M1330.2 258.7H1375.9"/>
<path d="M1258.2 267.7H1298.5V283.6H1258.2Z"/>
<path d="M1277.7 283.6V325.4M1237.8 269H1319.5M1319.5 258V269M1325.3 269V298L1328 303V325.4"/>
<path d="M1180 188H1171.3V212.6H1180M1180 264H1171.3V289.5H1180M1376 188H1385.2V212.6H1376M1376 264H1385.2V289.5H1376"/>
<path d="M1249.5 325.4V316.3H1306.8V325.4"/>
</g>
<path d="M1180.4 258H1232V269H1231V298H1228V325.4H1180.4Z" fill="#9b9b9b" stroke="#444" stroke-width="1"/>
<rect x="1232" y="258.5" width="6" height="10" fill="#9b9b9b" stroke="#555" stroke-width="0.6"/>
<path d="M1240 264L1245.5 260V268Z" fill="#e0102a"/>
<text x="1216.4" y="171.8" font-size="15" fill="#222" text-anchor="middle" font-weight="normal">02</text>
<text x="1276.7" y="171.8" font-size="15" fill="#222" text-anchor="middle" font-weight="normal">03</text>
<text x="1337" y="171.8" font-size="15" fill="#222" text-anchor="middle" font-weight="normal">04</text>
<text x="1202.8" y="230.2" font-size="15" fill="#222" text-anchor="middle" font-weight="normal">01</text>
<text x="1353.5" y="230.2" font-size="15" fill="#222" text-anchor="middle" font-weight="normal">05</text>
<text x="1207.6" y="286.6" font-size="15" fill="#222" text-anchor="middle" font-weight="normal">09</text>
<text x="1254.3" y="301.5" font-size="15" fill="#222" text-anchor="middle" font-weight="normal">08</text>
<text x="1301.6" y="301.5" font-size="15" fill="#222" text-anchor="middle" font-weight="normal">07</text>
<text x="1353.1" y="286.6" font-size="15" fill="#222" text-anchor="middle" font-weight="normal">06</text>
<path d="M1225.8 77.2Q1230 70 1238 69.6Q1243 70 1244.5 73L1243.5 69Q1242 65 1246.6 65.4Q1250 66 1249.6 70L1248 68Q1246 67 1246 69.5Q1247 73 1246.5 76Q1244 80 1240 79.5Q1233 77 1225.8 77.2Z" fill="#111"/>
<path d="M1239 78V97.7M1238.5 79L1230.8 85L1241.4 89.7" fill="none" stroke="#111" stroke-width="1"/>
<path d="M1226 110.6Q1232 108 1238 110.6T1251 110.6M1226 116.1Q1232 113.5 1238 116.1T1251 116.1M1226 121.7Q1232 119 1238 121.7T1251 121.7" fill="none" stroke="#111" stroke-width="2.3"/>
<path d="M1306 58L1307.5 90L1309 110L1311 124H1301L1303 110L1304.5 90Z" fill="#111"/>
<path d="M1137.4 252L1138.8 263L1138.4 272H1136.4L1136 263Z" fill="#111"/>
<path d="M1137.4 266Q1134.5 290 1128 303.3H1133Q1135.5 287 1138.2 270Z" fill="#111"/>
<path d="M1137.4 266Q1140.3 290 1146.7 303.3H1141.5Q1139.3 287 1136.6 270Z" fill="#111"/>
<path d="M1137.4 272V303" stroke="#888" stroke-width="1.4"/>
<ellipse cx="1407.7" cy="338.2" rx="13.7" ry="11.4" fill="#111"/>
<path d="M1406.5 348V362M1394 362H1426.2" stroke="#111" stroke-width="1.8"/>
<rect x="1411.8" y="352.8" width="14.2" height="4.6" fill="#222"/><rect x="1412.3" y="357.4" width="13.4" height="4" fill="#fff" stroke="#222" stroke-width="1"/>
<circle cx="1500.8" cy="348.5" r="13.5" fill="none" stroke="#e3e3e3" stroke-width="1"/><path d="M1490 340L1511 357M1493 360L1508 337" stroke="#ececec" stroke-width="0.8"/><path d="M1501.3 349L1512.8 356.7" stroke="#333" stroke-width="3"/>
<text x="1518.6" y="361" font-size="7" fill="#222" text-anchor="middle" font-weight="bold">N</text>
<rect x="1168.4" y="399" width="318" height="33" fill="#2581c4"/>
<text x="1175" y="422.3" font-size="17.5" fill="#fff" text-anchor="start" font-weight="normal" stroke="#fff" stroke-width="0.4">NO.</text>
<text x="1365" y="422.3" font-size="17.5" fill="#fff" text-anchor="start" font-weight="normal" stroke="#fff" stroke-width="0.4">Sq.m</text>
<text x="1432" y="422.3" font-size="17.5" fill="#fff" text-anchor="start" font-weight="normal" stroke="#fff" stroke-width="0.4">Sq.ft</text>
<g stroke="#c6c6c6" stroke-width="1.2" fill="none">
<path d="M1168.4 457.2H1486.4"/>
<path d="M1168.4 482.3H1486.4"/>
<path d="M1168.4 507.5H1486.4"/>
<path d="M1168.4 532.6H1486.4"/>
<path d="M1168.4 557.8H1486.4"/>
<path d="M1168.4 583.3H1486.4"/>
<path d="M1168.4 608.5H1486.4"/>
<path d="M1168.4 633.4H1486.4"/>
<path d="M1168.4 658.4H1486.4"/>
<path d="M1168.4 683.1H1486.4"/>
<path d="M1168.4 432V683.1M1209 432V683.1M1353.4 432V683.1M1419.4 432V683.1M1486.4 432V683.1"/>
</g>
<text x="1189" y="451" font-size="17.5" fill="#595959" text-anchor="middle" font-weight="normal">1</text>
<text x="1212.2" y="450" font-size="17.5" fill="#595959" text-anchor="start" font-weight="normal">Foyer</text>
<text x="1357.8" y="452.5" font-size="17.5" fill="#595959" text-anchor="start" font-weight="normal">2.4</text>
<text x="1429.4" y="452.5" font-size="17.5" fill="#595959" text-anchor="start" font-weight="normal">25.83</text>
<text x="1189" y="476" font-size="17.5" fill="#595959" text-anchor="middle" font-weight="normal">2</text>
<text x="1212.2" y="475" font-size="17.5" fill="#595959" text-anchor="start" font-weight="normal">Kitchen</text>
<text x="1357.8" y="478.3" font-size="17.5" fill="#595959" text-anchor="start" font-weight="normal">8.32</text>
<text x="1429.4" y="478.3" font-size="17.5" fill="#595959" text-anchor="start" font-weight="normal">89.55</text>
<text x="1189" y="502" font-size="17.5" fill="#595959" text-anchor="middle" font-weight="normal">3</text>
<text x="1212.2" y="501" font-size="17.5" fill="#595959" text-anchor="start" font-weight="normal">Living \ Dining</text>
<text x="1357.8" y="503.3" font-size="17.5" fill="#595959" text-anchor="start" font-weight="normal">20.4</text>
<text x="1429.4" y="503.3" font-size="17.5" fill="#595959" text-anchor="start" font-weight="normal">219.56</text>
<text x="1189" y="527" font-size="17.5" fill="#595959" text-anchor="middle" font-weight="normal">4</text>
<text x="1212.2" y="526" font-size="17.5" fill="#595959" text-anchor="start" font-weight="normal">Balcony</text>
<text x="1357.8" y="527.5" font-size="17.5" fill="#595959" text-anchor="start" font-weight="normal">5.74</text>
<text x="1429.4" y="527.5" font-size="17.5" fill="#595959" text-anchor="start" font-weight="normal">61.78</text>
<text x="1189" y="552" font-size="17.5" fill="#595959" text-anchor="middle" font-weight="normal">5</text>
<text x="1212.2" y="551" font-size="17.5" fill="#595959" text-anchor="start" font-weight="normal">Bedroom</text>
<text x="1357.8" y="553.3" font-size="17.5" fill="#595959" text-anchor="start" font-weight="normal">10.56</text>
<text x="1429.4" y="553.3" font-size="17.5" fill="#595959" text-anchor="start" font-weight="normal">113.66</text>
<text x="1189" y="577" font-size="17.5" fill="#595959" text-anchor="middle" font-weight="normal">6</text>
<text x="1212.2" y="576" font-size="17.5" fill="#595959" text-anchor="start" font-weight="normal">Master Bedroom</text>
<text x="1357.8" y="578.9" font-size="17.5" fill="#595959" text-anchor="start" font-weight="normal">12.31</text>
<text x="1429.4" y="578.9" font-size="17.5" fill="#595959" text-anchor="start" font-weight="normal">131.4</text>
<text x="1189" y="602" font-size="17.5" fill="#595959" text-anchor="middle" font-weight="normal">7</text>
<text x="1214" y="601" font-size="17.5" fill="#595959" text-anchor="start" font-weight="normal">Walk in Closet</text>
<text x="1189" y="627" font-size="17.5" fill="#595959" text-anchor="middle" font-weight="normal">8</text>
<text x="1212.2" y="626" font-size="17.5" fill="#595959" text-anchor="start" font-weight="normal">Master Bathroom</text>
<text x="1357.8" y="625.5" font-size="17.5" fill="#595959" text-anchor="start" font-weight="normal">6.3</text>
<text x="1429.4" y="625.5" font-size="17.5" fill="#595959" text-anchor="start" font-weight="normal">67.8</text>
<text x="1189" y="652" font-size="17.5" fill="#595959" text-anchor="middle" font-weight="normal">9</text>
<text x="1212.2" y="651" font-size="17.5" fill="#595959" text-anchor="start" font-weight="normal">Bathroom</text>
<text x="1357.8" y="650.5" font-size="17.5" fill="#595959" text-anchor="start" font-weight="normal">6.5</text>
<text x="1429.4" y="650.5" font-size="17.5" fill="#595959" text-anchor="start" font-weight="normal">69.96</text>
<text x="1189" y="677" font-size="17.5" fill="#595959" text-anchor="middle" font-weight="normal">10</text>
<text x="1212.2" y="676" font-size="17.5" fill="#595959" text-anchor="start" font-weight="normal">Laundry area</text>
<path d="M910.6 893.8L925.3 908.4H896.4Z" fill="#f21010"/>
<text x="855" y="932.4" font-size="26.5" fill="#111" text-anchor="start" font-weight="normal" textLength="102" lengthAdjust="spacingAndGlyphs">Entrance</text>
<rect x="0" y="963" width="1527" height="12" fill="#8dc63f"/>
<rect x="0" y="975" width="1527" height="105" fill="#2a86c8"/>
<g fill="#fff">
<path d="M48 990L56 985L79 992V1016L48 1020Z"/>
<path d="M68 1001L86 997L91 999V1034L68 1028Z"/>
<path d="M37 1027Q60 1014 80 1025Q95 1035 101 1031Q92 1044 75 1038Q58 1028 37 1027Z"/>
<path d="M40 1035Q58 1028 74 1038Q84 1044 92 1041Q82 1048 70 1043Q56 1035 40 1035Z"/>
</g>
<path d="M56 986V1018M86 998V1032" stroke="#2a86c8" stroke-width="0.8"/>
<text x="69" y="1057.4" font-size="10" fill="#fff" text-anchor="middle" font-weight="bold" textLength="82" lengthAdjust="spacingAndGlyphs">PROPERTY SHOP</text>
<text x="62" y="1069.2" font-size="8" fill="#fff" text-anchor="middle" font-weight="bold" textLength="51" lengthAdjust="spacingAndGlyphs">INVESTMENT</text>
<text x="97" y="1069" font-size="4" fill="#fff" text-anchor="middle" font-weight="normal">LLC</text>
<text x="164" y="1008.9" font-size="26" fill="#fff" text-anchor="start" font-weight="normal" textLength="445" lengthAdjust="spacingAndGlyphs">17 Icon Bay - Dubai Creek Harbour</text>
<text x="164" y="1041.2" font-size="26" fill="#fff" text-anchor="start" font-weight="normal" textLength="380" lengthAdjust="spacingAndGlyphs">2 Bedroom Apartment Unit 09</text>
<text x="164" y="1068.9" font-size="26" fill="#fff" text-anchor="start" font-weight="normal" textLength="155" lengthAdjust="spacingAndGlyphs">Level&#160; 2 - 15</text>
<text x="753" y="1021.6" font-size="26" fill="#fff" text-anchor="start" font-weight="normal" textLength="229" lengthAdjust="spacingAndGlyphs">BUA: 1,091.4 Sqft</text>
<text x="753" y="1052.3" font-size="26" fill="#fff" text-anchor="start" font-weight="normal" textLength="227" lengthAdjust="spacingAndGlyphs">BUA: 101.39 Sqm</text>
<path d="M1210 1006Q1206 1010 1209 1018Q1214 1028 1226 1034Q1233 1036 1235 1031L1231 1025L1226 1027Q1219 1024 1216 1016L1219 1012L1215 1005Z" fill="#fff"/>
<text x="1244" y="1034.2" font-size="41" fill="#fff" text-anchor="start" font-weight="normal" textLength="228" lengthAdjust="spacingAndGlyphs">600 548 200</text>
<text x="1207" y="1054.2" font-size="19" fill="#fff" text-anchor="start" font-weight="normal" textLength="294" lengthAdjust="spacingAndGlyphs" stroke="#2a86c8" stroke-width="0.3">www.propertyshopinvestment.com</text>
</svg>
</body></html>
